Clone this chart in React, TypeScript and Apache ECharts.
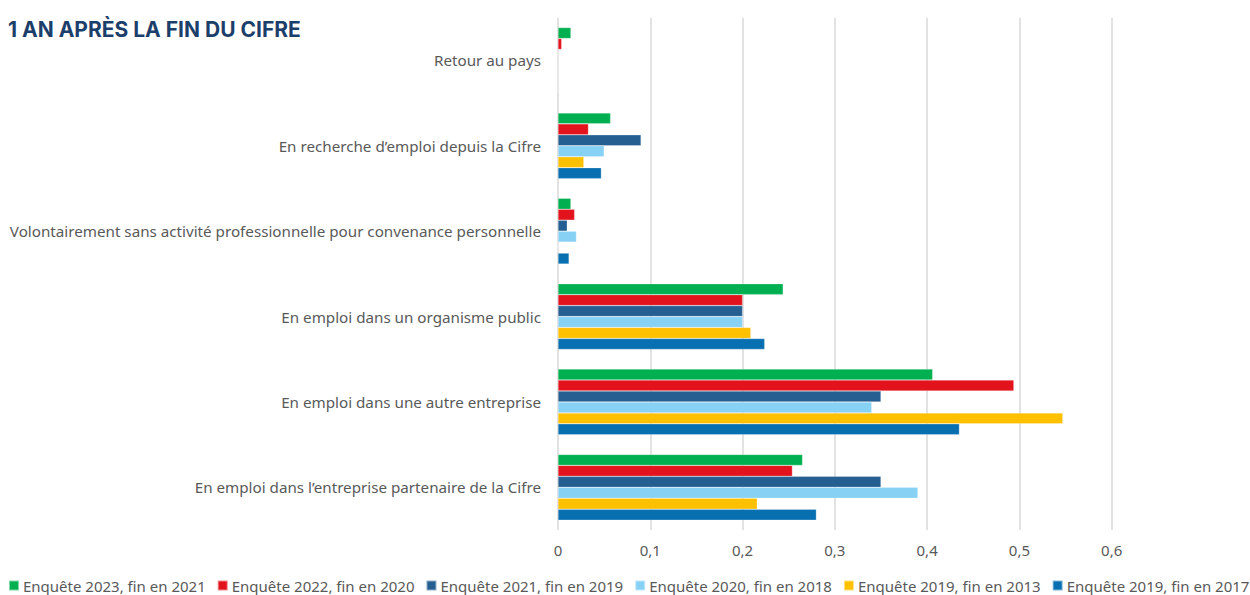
import React, { useEffect, useRef } from "react";
import * as echarts from "echarts";

const categories = [
  "Retour au pays",
  "En recherche d’emploi depuis la Cifre",
  "Volontairement sans activité professionnelle pour convenance personnelle",
  "En emploi dans un organisme public",
  "En emploi dans une autre entreprise",
  "En emploi dans l’entreprise partenaire de la Cifre",
];

const seriesNames = [
  "Enquête 2023, fin en 2021",
  "Enquête 2022, fin en 2020",
  "Enquête 2021, fin en 2019",
  "Enquête 2020, fin en 2018",
  "Enquête 2019, fin en 2013",
  "Enquête 2019, fin en 2017",
];

const enquete2023 = [0.014, 0.057, 0.014, 0.244, 0.406, 0.265];
const enquete2022 = [0.004, 0.033, 0.018, 0.2, 0.494, 0.254];
const enquete2021 = [0, 0.09, 0.01, 0.2, 0.35, 0.35];
const enquete2020 = [0, 0.05, 0.02, 0.2, 0.34, 0.39];
const enquete2019a = [0, 0.028, 0, 0.209, 0.547, 0.216];
const enquete2019b = [0, 0.047, 0.012, 0.224, 0.435, 0.28];

const seriesValues = [enquete2023, enquete2022, enquete2021, enquete2020, enquete2019a, enquete2019b];
const colors = ["#00B050", "#E3131D", "#255E91", "#87D1F5", "#FFC000", "#086FB0"];

const xTicks = { min: 0, max: 0.6, interval: 0.1 };

export default function App() {
  const ref = useRef<HTMLDivElement>(null);
  useEffect(() => {
    document.body.style.margin = "0";
    const chart = echarts.init(ref.current!, null, { renderer: "svg" });
    const font = "'Noto Sans', sans-serif";
    chart.setOption({
      animation: false,
      backgroundColor: "#ffffff",
      title: {
        text: "1 AN APRÈS LA FIN DU CIFRE",
        left: 8,
        top: 19,
        padding: 0,
        textStyle: { fontFamily: "Inter, sans-serif", fontWeight: "bold", fontSize: 21, color: "#1B3E6A" },
      },
      grid: { left: 558, right: 138.3, top: 17.7, bottom: 65, containLabel: false },
      legend: {
        left: 8,
        top: 578,
        padding: 0,
        itemWidth: 10,
        itemHeight: 10,
        itemGap: 11,
        icon: "rect",
        data: seriesNames,
        textStyle: { fontFamily: font, fontSize: 15, color: "#595959", padding: [0, 0, 0, -1] },
      },
      xAxis: {
        type: "value",
        min: xTicks.min,
        max: xTicks.max,
        interval: xTicks.interval,
        axisLine: { show: false },
        axisTick: { show: false },
        splitLine: { show: true, lineStyle: { color: "#D9D9D9", width: 1.5 } },
        axisLabel: {
          margin: 12,
          fontFamily: font,
          fontSize: 15,
          color: "#595959",
          formatter: (v: number) => String(Math.round(v * 10) / 10).replace(".", ","),
        },
      },
      yAxis: {
        type: "category",
        inverse: true,
        data: categories,
        axisLine: { show: false },
        axisTick: { show: false },
        axisLabel: { margin: 17, fontFamily: font, fontSize: 15.2, color: "#595959" },
      },
      series: seriesNames.map((name, i) => ({
        name,
        type: "bar",
        data: seriesValues[i],
        barGap: "0%",
        barCategoryGap: "23%",
        itemStyle: { color: colors[i], borderColor: "rgba(255,255,255,0.5)", borderWidth: 0.5 },
      })),
    });
    return () => chart.dispose();
  }, []);
  return <div ref={ref} style={{ width: 1250, height: 595 }} />;
}
